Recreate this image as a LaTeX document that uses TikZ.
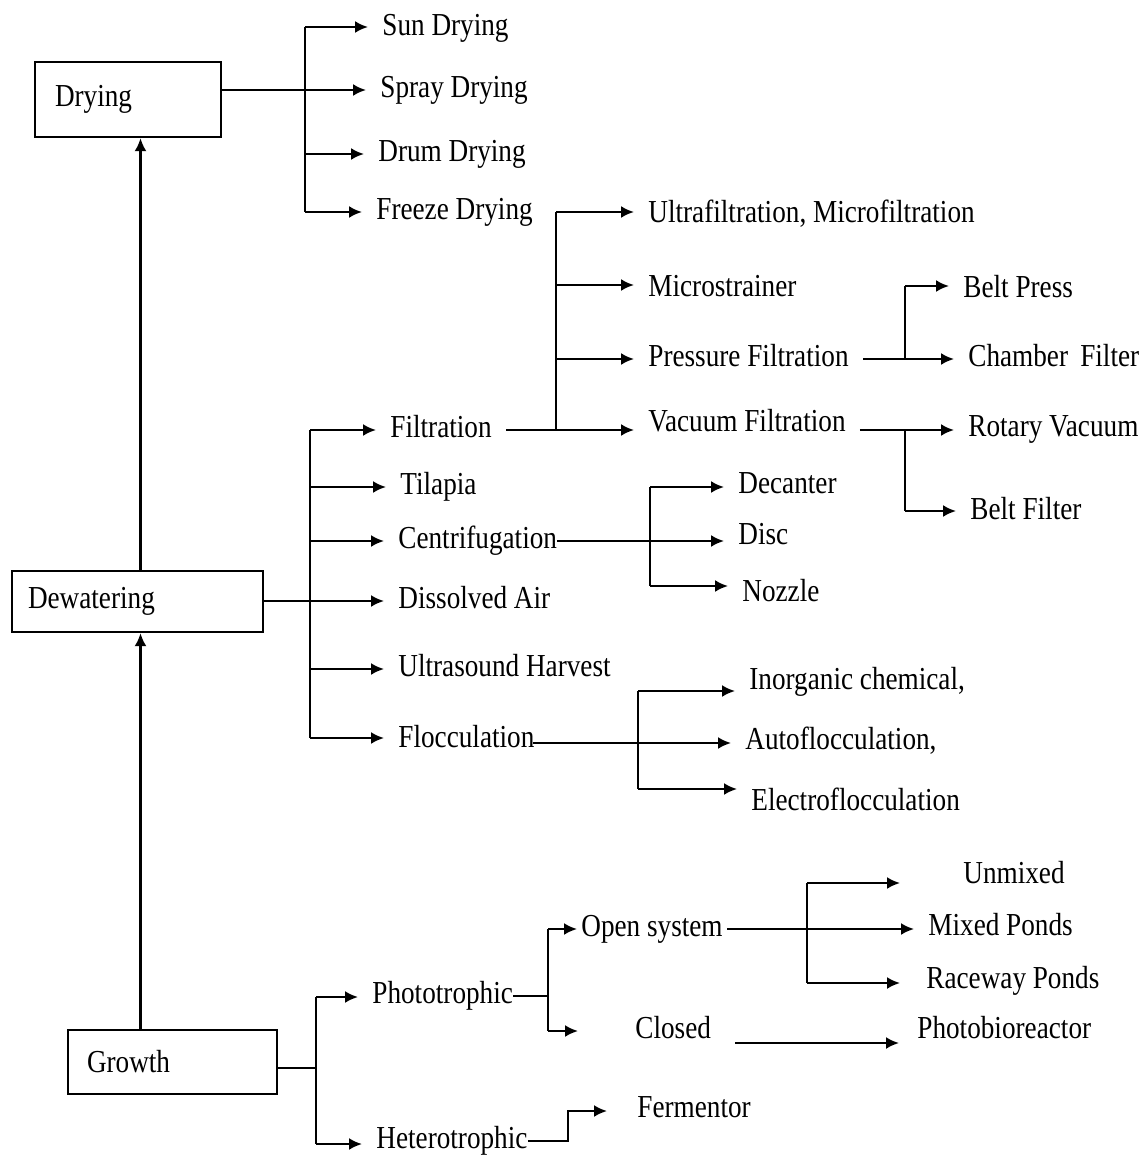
\documentclass[tikz,border=0pt]{standalone}
\usepackage{fontspec}
\setmainfont{Liberation Serif}[FakeStretch=0.85]
\usetikzlibrary{arrows.meta}
\begin{document}
\begin{tikzpicture}[x=0.5pt,y=-0.5pt,
  lbl/.style={anchor=west,inner xsep=7pt,inner ysep=0pt,text height=11pt,text depth=3.5pt,font=\fontsize{16}{19}\selectfont},
  bx/.style={draw,line width=1.2pt,align=left,inner ysep=0pt,font=\fontsize{16}{19}\selectfont},
  ln/.style={line width=1.1pt},
  arr/.style={line width=1.1pt,-{Latex[length=6.5pt,width=6pt]}}]
\useasboundingbox (0,0) rectangle (1147,1156);
% boxes
\node[bx,text width=73pt,inner xsep=10pt,minimum height=37.5pt] (drying) at (128,99.5) {Drying};
\node[bx,text width=109.5pt,inner xsep=8pt,minimum height=30.5pt] (dewater) at (137.5,601.5) {Dewatering};
\node[bx,text width=85.5pt,inner xsep=9.5pt,minimum height=32pt] (growth) at (172.5,1062) {Growth};
\draw[arr] ([xshift=1.5pt]dewater.north) -- ([xshift=1.5pt]dewater.north |- drying.south);
\draw[arr] ([xshift=1.5pt]dewater.south |- growth.north) -- ([xshift=1.5pt]dewater.south);
% drying
\node[lbl] (sun) at (368,28) {Sun Drying};
\node[lbl] (spray) at (366,90) {Spray Drying};
\node[lbl] (drum) at (364,154) {Drum Drying};
\node[lbl] (freeze) at (362,212) {Freeze Drying};
\coordinate (dT) at (305,27);
\coordinate (dB) at (305,212);
\draw[ln] (dT) -- (dB);
\draw[arr] (dT) -- (dT -| sun.west);
\draw[arr] (drying.east |- spray.west) -- (spray.west);
\draw[arr] (dT |- drum.west) -- (drum.west);
\draw[arr] (dB) -- (dB -| freeze.west);
% dewatering
\node[lbl] (filt) at (376,430) {Filtration};
\node[lbl] (tilapia) at (386,487) {Tilapia};
\node[lbl] (centri) at (384,541) {Centrifugation};
\node[lbl] (dissolved) at (384,601) {Dissolved Air};
\node[lbl] (ultra) at (384,669) {Ultrasound Harvest};
\node[lbl] (floc) at (384,740) {Flocculation};
\coordinate (wT) at (310,430);
\coordinate (wB) at (310,738);
\draw[ln] (wT) -- (wB);
\draw[arr] (wT) -- (wT -| filt.west);
\draw[arr] (wT |- tilapia.west) -- (tilapia.west);
\draw[arr] (wT |- centri.west) -- (centri.west);
\draw[arr] (dewater.east |- dissolved.west) -- (dissolved.west);
\draw[arr] (wT |- ultra.west) -- (ultra.west);
\draw[arr] (wB) -- (wB -| floc.west);
% filtration
\node[lbl] (ufmf) at (634,215) {Ultrafiltration, Microfiltration};
\node[lbl] (micro) at (634,289) {Microstrainer};
\node[lbl] (pressure) at (634,359) {Pressure Filtration};
\node[lbl] (vacuum) at (634,424) {Vacuum Filtration};
\coordinate (fT) at (556,212);
\coordinate (fB) at (556,430);
\draw[ln] (fT) -- (fB);
\draw[arr] (fT) -- (fT -| ufmf.west);
\draw[arr] (556,285) coordinate (fM) -- (fM -| micro.west);
\draw[arr] (fT |- pressure.west) -- (pressure.west);
\draw[arr] (filt.east) -- (filt.east -| vacuum.west);
% pressure / vacuum
\node[lbl] (beltpress) at (949,290) {Belt Press};
\node[lbl] (chamber) at (954,359) {Chamber\, Filter};
\node[lbl] (rotary) at (954,429) {Rotary Vacuum};
\node[lbl] (beltfilter) at (956,512) {Belt Filter};
\coordinate (pT) at (905,286);
\coordinate (pB) at (905,358);
\draw[ln] (pT) -- (pB);
\draw[arr] (pT) -- (pT -| beltpress.west);
\draw[arr] (pressure.east) -- (chamber.west);
\coordinate (vT) at (905,430);
\coordinate (vB) at (905,511);
\draw[ln] (vT) -- (vB);
\draw[arr] (vacuum.east |- vT) -- (vT -| rotary.west);
\draw[arr] (vB) -- (vB -| beltfilter.west);
% centrifugation
\node[lbl] (decanter) at (724,486) {Decanter};
\node[lbl] (disc) at (724,537) {Disc};
\node[lbl] (nozzle) at (728,594) {Nozzle};
\coordinate (cT) at (650,487);
\coordinate (cB) at (650,586);
\draw[ln] (cT) -- (cB);
\draw[arr] (cT) -- (cT -| decanter.west);
\draw[arr] ([xshift=-7pt]centri.east) -- (centri.east -| disc.west);
\draw[arr] (cB) -- (cB -| nozzle.west);
% flocculation
\node[lbl] (inorg) at (735,682) {Inorganic chemical,};
\node[lbl] (auto) at (731,742) {Autoflocculation,};
\node[lbl] (electro) at (737,803) {Electroflocculation};
\coordinate (lT) at (638,691);
\coordinate (lB) at (638,789);
\draw[ln] (lT) -- (lB);
\draw[arr] (lT) -- (lT -| inorg.west);
\draw[arr] ([xshift=-8pt,yshift=-1.5pt]floc.east) -- ([yshift=-1.5pt]floc.east -| auto.west);
\draw[arr] (lB) -- (lB -| electro.west);
% growth
\node[lbl] (photo) at (358,996) {Phototrophic};
\node[lbl] (hetero) at (362,1141) {Heterotrophic};
\coordinate (gT) at (316,997);
\coordinate (gB) at (316,1144);
\draw[ln] (gT) -- (gB);
\draw[ln] (growth.east |- 316,1068) -- (316,1068);
\draw[arr] (gT) -- (gT -| photo.west);
\draw[arr] (gB) -- (gB -| hetero.west);
% phototrophic
\node[lbl,inner xsep=2pt] (open) at (577,929) {Open system};
\node[lbl] (closed) at (621,1031) {Closed};
\coordinate (phT) at (548,929);
\coordinate (phB) at (548,1031);
\draw[ln] (phT) -- (phB);
\draw[ln] ([xshift=-7pt]photo.east) -- (photo.east -| phT);
\draw[arr] (phT) -- (open.west);
\draw[arr] (phB) -- ([xshift=-21.5pt]closed.west);
% open system
\node[lbl] (unmixed) at (949,876) {Unmixed};
\node[lbl] (mixed) at (914,928) {Mixed Ponds};
\node[lbl] (raceway) at (912,981) {Raceway Ponds};
\node[lbl] (pbr) at (903,1031) {Photobioreactor};
\coordinate (oT) at (807,883);
\coordinate (oB) at (807,983);
\draw[ln] (oT) -- (oB);
\draw[arr] (oT) -- ([xshift=-24.5pt]oT -| unmixed.west);
\draw[arr] (open.east) -- (open.east -| mixed.west);
\draw[arr] (oB) -- ([xshift=-6pt]oB -| raceway.west);
\draw[arr] ([xshift=5pt,yshift=-6pt]closed.east) -- ([xshift=-2pt,yshift=-6pt]pbr.west);
% heterotrophic
\node[lbl] (ferm) at (623,1110) {Fermentor};
\coordinate (hK) at (568,1111);
\draw[arr] ([xshift=-7pt]hetero.east) -| (hK) -- ([xshift=-8pt]hK -| ferm.west);
\end{tikzpicture}
\end{document}
